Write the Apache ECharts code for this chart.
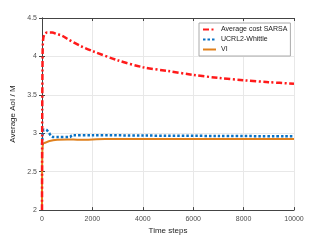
<!DOCTYPE html>
<html>
<head>
<meta charset="utf-8">
<script src="https://cdn.jsdelivr.net/npm/echarts@6/dist/echarts.min.js"></script>
<style>
  html, body { margin: 0; padding: 0; background: #fff; }
  #main { width: 324px; height: 240px; }
</style>
</head>
<body>
<div id="main"></div>
<script>
// values
var sarsaSteps = [0, 10, 25, 45, 100, 200, 400, 600, 800, 1000, 1500, 2000, 3000, 4000, 5000, 6000, 7000, 8000, 9000, 10000]
var sarsaAoI = [2.0, 3.3, 4.05, 4.22, 4.29, 4.31, 4.31, 4.29, 4.27, 4.23, 4.14, 4.07, 3.95, 3.86, 3.81, 3.76, 3.72, 3.69, 3.665, 3.645]

var ucrlSteps = [0, 30, 80, 150, 250, 400, 600, 1100, 1200, 2000, 4000, 7000, 10000]
var ucrlAoI = [2.85, 3.0, 3.05, 3.05, 3.02, 2.955, 2.95, 2.95, 2.975, 2.975, 2.97, 2.965, 2.96]

var viSteps = [0, 10, 40, 150, 300, 600, 1000, 1500, 2500, 10000]
var viAoI = [2.0, 2.7, 2.86, 2.88, 2.9, 2.915, 2.92, 2.915, 2.925, 2.925]

var xTicks = [0, 2000, 4000, 6000, 8000, 10000]
var yTicks = [2, 2.5, 3, 3.5, 4, 4.5]

function pairs(xs, ys) {
  var out = []
  for (var i = 0; i < xs.length; i++) out.push([xs[i], ys[i]])
  return out
}

var txt = '#4d4d4d'
var axisCol = '#444'
var font = 'Liberation Sans'

var chart = echarts.init(document.getElementById('main'), null, { renderer: 'canvas' })

var baseX = {
  type: 'value', min: xTicks[0], max: xTicks[xTicks.length - 1], interval: 2000,
  axisLine: { show: true, lineStyle: { color: axisCol, width: 1 } },
  axisTick: { show: true, inside: true, length: 3, lineStyle: { color: axisCol } }
}
var baseY = {
  type: 'value', min: yTicks[0], max: yTicks[yTicks.length - 1], interval: 0.5,
  axisLine: { show: true, lineStyle: { color: axisCol, width: 1 } },
  axisTick: { show: true, inside: true, length: 3, lineStyle: { color: axisCol } }
}

chart.setOption({
  animation: false,
  textStyle: { fontFamily: font },
  grid: { left: 42, right: 30, top: 18, bottom: 27 },
  legend: {
    left: 199, top: 23,
    orient: 'vertical',
    backgroundColor: '#fff',
    borderColor: '#aaa', borderWidth: 1, borderRadius: 0,
    padding: [3, 3, 3, 3],
    itemGap: 3,
    itemWidth: 13, itemHeight: 8,
    itemStyle: { opacity: 0 },
    textStyle: { fontSize: 7, color: '#222', fontFamily: font },
    data: ['Average cost SARSA', 'UCRL2-Whittle', 'VI']
  },
  xAxis: [
    Object.assign({}, baseX, {
      position: 'bottom',
      name: 'Time steps', nameLocation: 'middle', nameGap: 14,
      nameTextStyle: { fontSize: 8, color: '#222' },
      axisLabel: { fontSize: 7, color: txt, margin: 5, formatter: function (v) { return String(v) } },
      splitLine: { show: true, lineStyle: { color: '#e8e8e8', width: 1 } }
    }),
    Object.assign({}, baseX, {
      position: 'top',
      axisLabel: { show: false },
      splitLine: { show: false }
    })
  ],
  yAxis: [
    Object.assign({}, baseY, {
      position: 'left',
      name: 'Average AoI / M', nameLocation: 'middle', nameGap: 19,
      nameTextStyle: { fontSize: 8, color: '#222' },
      axisLabel: { fontSize: 7, color: txt, margin: 5 },
      splitLine: { show: true, lineStyle: { color: '#e8e8e8', width: 1 } }
    }),
    Object.assign({}, baseY, {
      position: 'right',
      axisLabel: { show: false },
      splitLine: { show: false }
    })
  ],
  series: [
    {
      name: 'Average cost SARSA', type: 'line', showSymbol: false, symbol: 'none',
      smooth: 0.3, z: 4,
      data: pairs(sarsaSteps, sarsaAoI),
      itemStyle: { color: '#ff1a1a' },
      lineStyle: { color: '#ff1a1a', width: 2.5, type: [6, 2.5, 2, 2.5] }
    },
    {
      name: 'UCRL2-Whittle', type: 'line', showSymbol: false, symbol: 'none',
      smooth: 0.3, z: 3,
      data: pairs(ucrlSteps, ucrlAoI),
      itemStyle: { color: '#0a72c4' },
      lineStyle: { color: '#0a72c4', width: 2.5, type: [2.5, 2], cap: 'butt' }
    },
    {
      name: 'VI', type: 'line', showSymbol: false, symbol: 'none',
      smooth: 0.3, z: 2,
      data: pairs(viSteps, viAoI),
      itemStyle: { color: '#e0801c' },
      lineStyle: { color: '#e0801c', width: 2 }
    }
  ]
})
</script>
</body>
</html>
